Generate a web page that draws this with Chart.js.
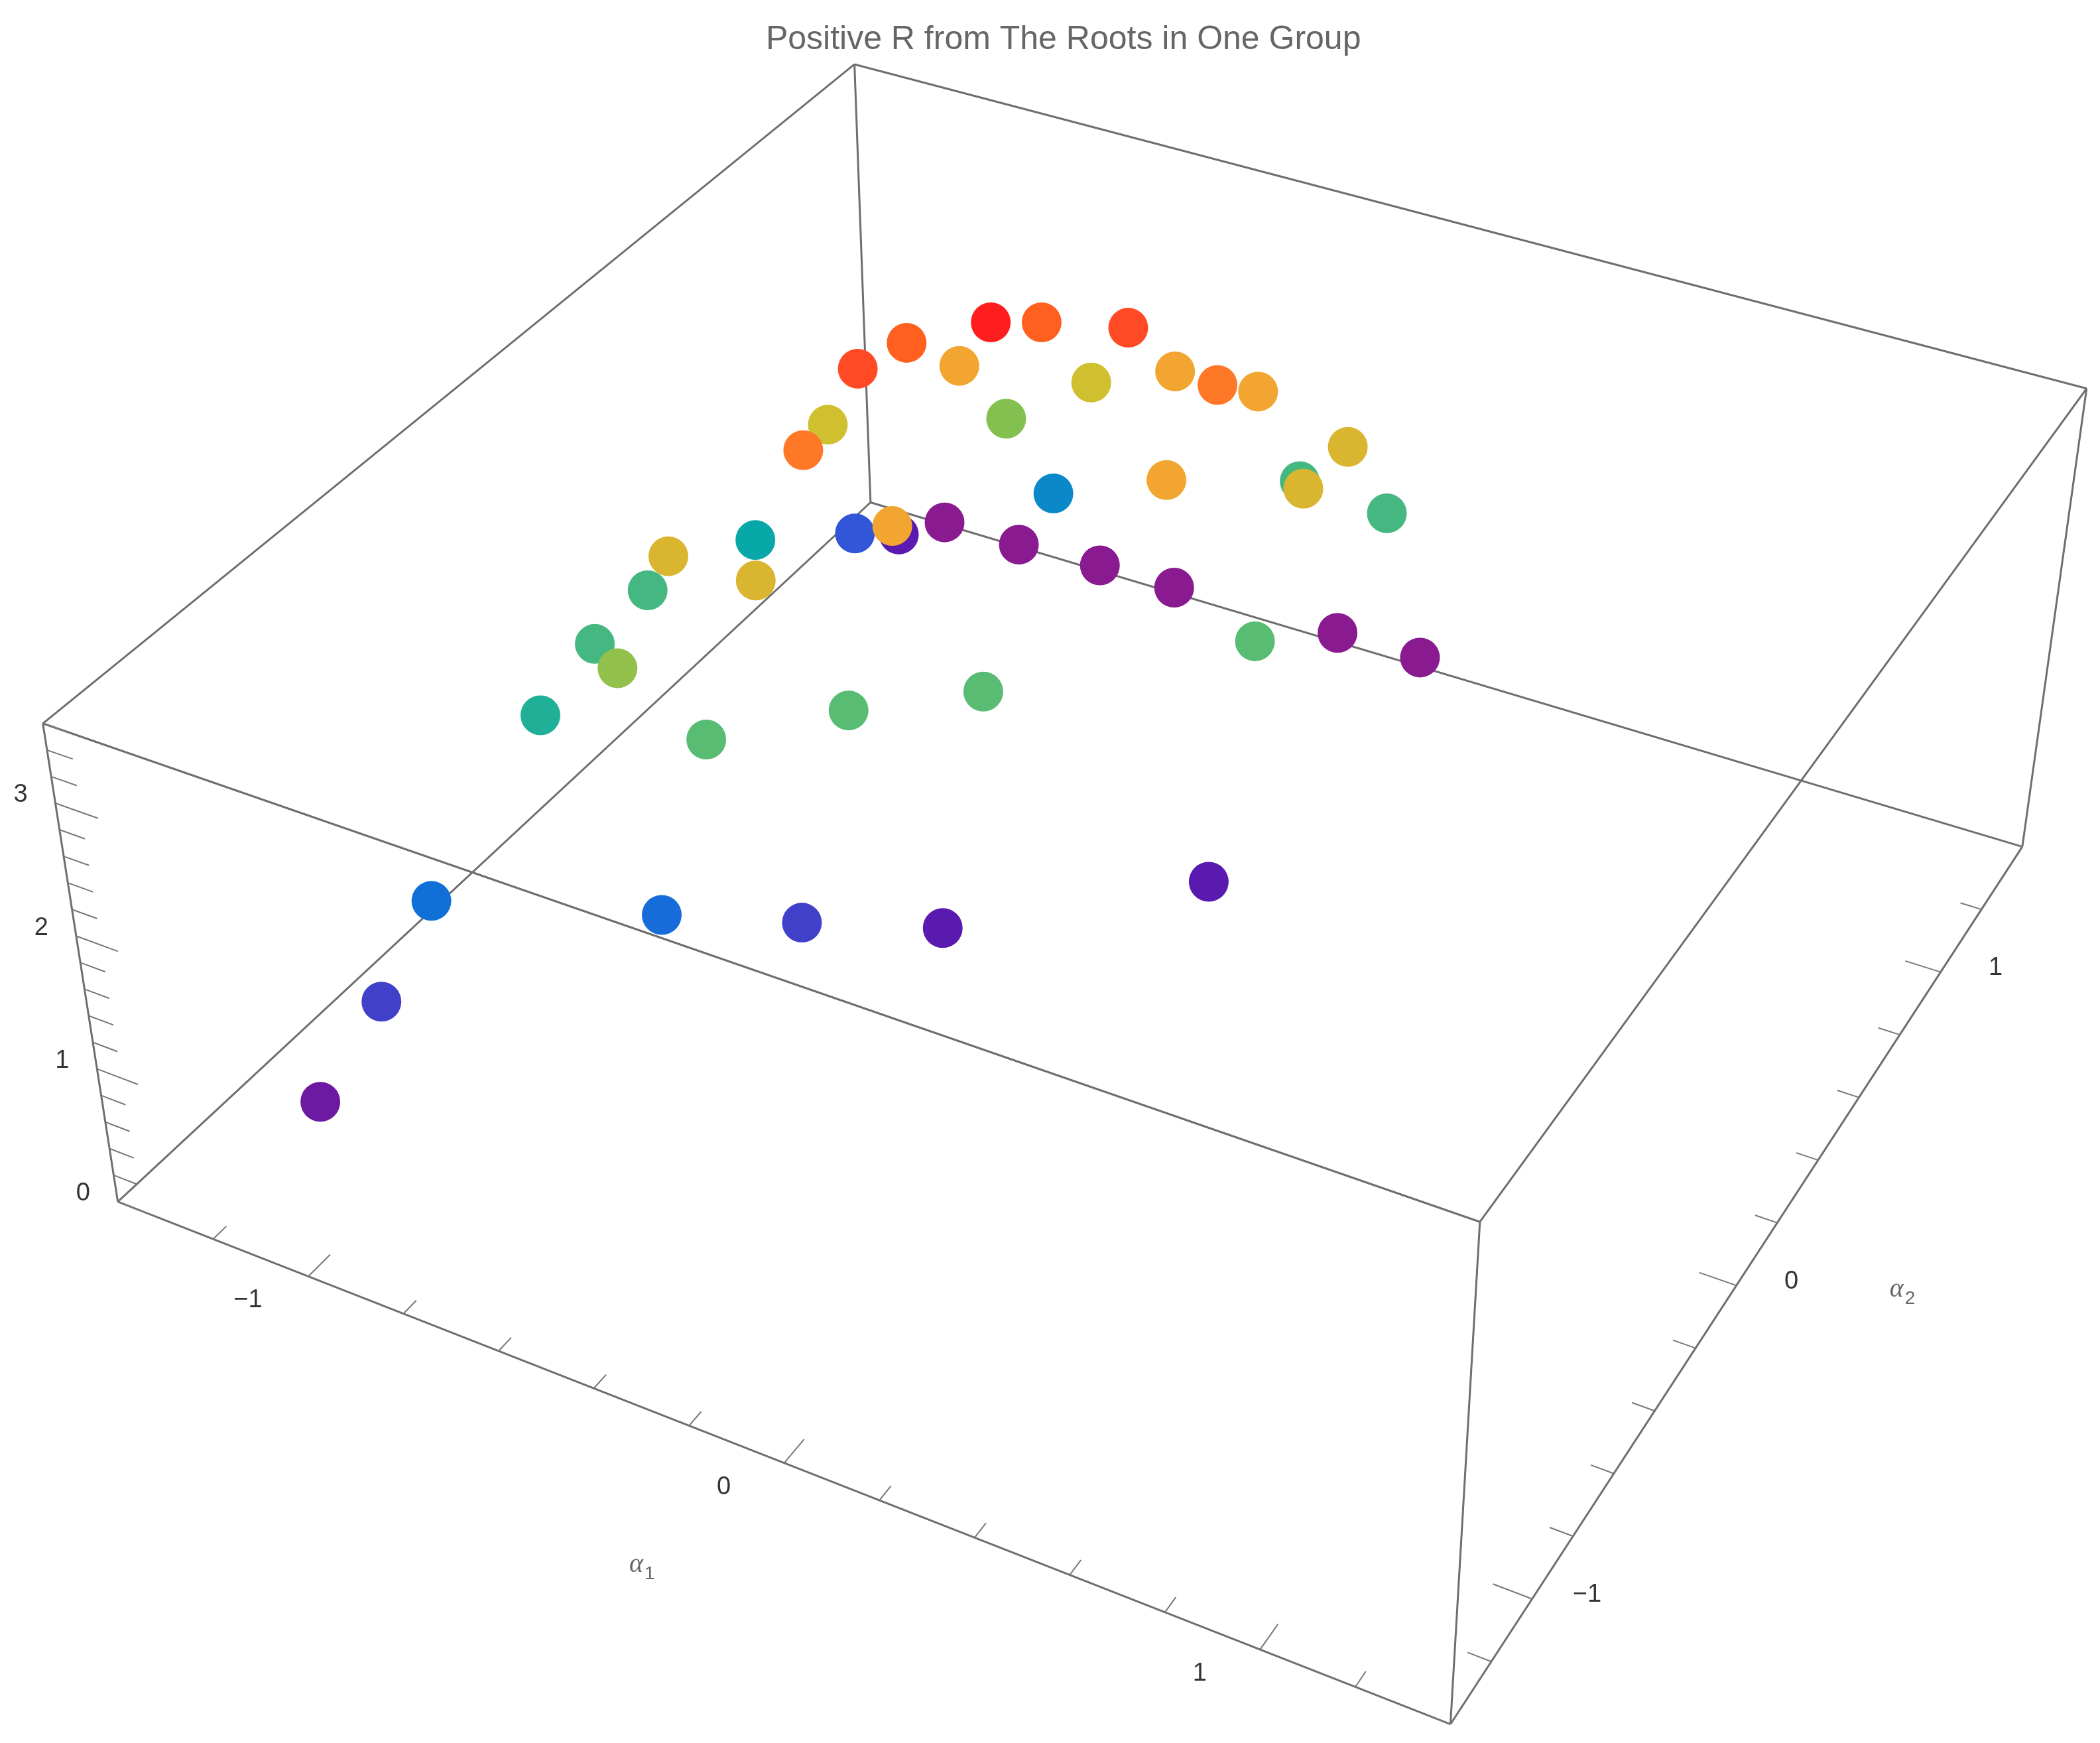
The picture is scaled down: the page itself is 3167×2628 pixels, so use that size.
<!DOCTYPE html>
<html><head><meta charset="utf-8">
<script src="https://cdn.jsdelivr.net/npm/chart.js@4.4.0/dist/chart.umd.min.js"></script>
<style>html,body{margin:0;background:#fff}canvas{display:block}</style>
</head><body>
<canvas id="c" width="3167" height="2628"></canvas>
<script>
// data: alpha1, alpha2, R
const alpha1 = [-0.69,-0.65,-0.47,-0.84,-0.85,-0.78,-0.57,-0.40,-0.26,-0.22,-0.94,-0.84,-0.72,0.01,-0.73,-0.23,-0.16,0.00,0.05,-1.10,-1.14,-0.61,-1.20,-1.02,-0.83,-0.65,-0.26,-0.06,0.04,-1.09,-0.94,-0.76,-1.08,-1.07,-0.91,-1.08,-0.71,-0.53,-0.34,-1.08,-0.71,-0.57,-0.39,0.00,-1.11,-1.16];
const alpha2 = [0.75,0.87,0.89,0.69,0.53,0.78,0.92,0.95,0.87,0.96,0.56,0.31,0.85,0.91,1.04,0.62,1.03,0.75,1.01,0.89,1.11,0.24,1.37,1.37,1.38,1.38,1.39,1.39,0.49,0.52,-0.02,-0.01,0.12,-0.09,-0.27,-0.28,-0.30,-0.08,0.10,-0.71,-0.50,-0.22,0.01,0.39,-0.87,-1.04];
const R = [3.5,3.3,3.4,3.3,3.4,3.0,2.8,3.0,3.2,3.0,2.8,3.2,2.5,2.9,1.5,3.0,2.2,2.9,2.2,1.1,0.6,3.0,0.1,0.1,0.1,0.1,0.1,0.1,2.3,1.8,2.9,2.9,2.2,2.2,2.55,2.0,2.3,2.3,2.3,1.4,1.35,0.9,0.6,0.6,0.9,0.4];

const a1Range = [-1.4, 1.4], a2Range = [-1.4, 1.4], rRange = [0, 3.6];
const a1Ticks = [-1, 0, 1], a2Ticks = [-1, 0, 1], rTicks = [0, 1, 2, 3];
const title = 'Positive R from The Roots in One Group';

// colour scale by R
const colorStops = [[0.1,[138,26,144]],[0.6,[90,26,176]],[0.9,[64,64,200]],[1.1,[51,85,216]],[1.4,[16,112,216]],[1.5,[10,136,200]],[1.8,[8,168,168]],[2.0,[32,176,152]],[2.2,[69,184,130]],[2.3,[88,188,114]],[2.5,[132,192,80]],[2.8,[208,192,48]],[2.9,[218,181,48]],[3.0,[242,165,48]],[3.2,[255,120,40]],[3.3,[255,96,32]],[3.4,[255,74,37]],[3.5,[255,30,30]]];
function colorFor(r) {
    if (r <= colorStops[0][0]) return 'rgb(' + colorStops[0][1] + ')';
    for (let i = 1; i < colorStops.length; i++) {
        if (r <= colorStops[i][0]) {
            const a = colorStops[i-1], b = colorStops[i], t = (r - a[0]) / (b[0] - a[0]);
            return 'rgb(' + a[1].map((c, k) => Math.round(c + t * (b[1][k] - c))).join(',') + ')';
        }
    }
    return 'rgb(' + colorStops[colorStops.length-1][1] + ')';
}

// view: box corners on screen (view units 1568 x 1301) at bottom (w=0) and top (w=1)
function faceCorners(w) {
    return [[88-56*w, 897-357*w], [1083+22*w, 1287-375*w], [1510+48*w, 632-342*w], [650-12*w, 375-327*w]];
}
function projN(u, v, w) {
    const c = faceCorners(w);
    return {
        x: (1-u)*(1-v)*c[0][0] + u*(1-v)*c[1][0] + u*v*c[2][0] + (1-u)*v*c[3][0],
        y: (1-u)*(1-v)*c[0][1] + u*(1-v)*c[1][1] + u*v*c[2][1] + (1-u)*v*c[3][1]
    };
}
const nu = a => (a - a1Range[0]) / (a1Range[1] - a1Range[0]);
const nv = a => (a - a2Range[0]) / (a2Range[1] - a2Range[0]);
const nw = r => (r - rRange[0]) / (rRange[1] - rRange[0]);
const proj = (a, b, r) => projN(nu(a), nv(b), nw(r));

// box edges
const edges = [];
[[0,0,0,1,0,0],[1,0,0,1,1,0],[1,1,0,0,1,0],[0,1,0,0,0,0],
 [0,0,1,1,0,1],[1,0,1,1,1,1],[1,1,1,0,1,1],[0,1,1,0,0,1],
 [0,0,0,0,0,1],[1,0,0,1,0,1],[1,1,0,1,1,1],[0,1,0,0,1,1]].forEach(e => {
    edges.push({
        type: 'line', data: [projN(e[0], e[1], e[2]), projN(e[3], e[4], e[5])],
        borderColor: '#6e6e6e', borderWidth: 3, pointRadius: 0, order: 1
    });
});

// tick marks (minor every 0.2)
const tickPts = [];
function range02(lo, hi) { const out = []; for (let t = Math.ceil(lo*5)/5; t <= hi + 1e-9; t += 0.2) out.push(Math.round(t*5)/5); return out; }
range02(a1Range[0], a1Range[1]).forEach(t => {
    const len = Number.isInteger(t) ? 0.03 : 0.018, u = nu(t);
    tickPts.push(projN(u, 0, 0), projN(u, len, 0), {x: null, y: null});
});
range02(a2Range[0], a2Range[1]).forEach(t => {
    const len = Number.isInteger(t) ? 0.03 : 0.018, v = nv(t);
    tickPts.push(projN(1, v, 0), projN(1 - len, v, 0), {x: null, y: null});
});
range02(rRange[0], rRange[1]).forEach(t => {
    const len = Number.isInteger(t) ? 0.03 : 0.018, w = nw(t);
    tickPts.push(projN(0, 0, w), projN(len, 0, w), {x: null, y: null});
});

// points, back (large alpha2) drawn first
const idx = alpha1.map((_, i) => i).sort((a, b) => alpha2[b] - alpha2[a]);
const pointData = idx.map(i => proj(alpha1[i], alpha2[i], R[i]));
const pointColors = idx.map(i => colorFor(R[i]));

const labelsPlugin = {
    id: 'labels3d',
    afterDraw(chart) {
        const ctx = chart.ctx, sx = chart.scales.x, sy = chart.scales.y;
        const X = p => sx.getPixelForValue(p), Y = p => sy.getPixelForValue(p);
        ctx.save();
        ctx.textAlign = 'center'; ctx.textBaseline = 'middle';
        ctx.fillStyle = '#666';
        ctx.font = '50px "Liberation Sans", Arial, sans-serif';
        ctx.fillText(title, X(794), Y(30));
        ctx.fillStyle = '#333';
        ctx.font = '38px "Liberation Sans", Arial, sans-serif';
        const fmt = t => (t < 0 ? '\u2212' : '') + Math.abs(t);
        a1Ticks.forEach(t => { const p = proj(t, a2Range[0], 0); ctx.fillText(fmt(t), X(p.x - 45), Y(p.y + 18)); });
        a2Ticks.forEach(t => { const p = proj(a1Range[1], t, 0); ctx.fillText(fmt(t), X(p.x + 41), Y(p.y - 3)); });
        rTicks.forEach(t => { const p = proj(a1Range[0], a2Range[0], t); ctx.fillText(fmt(t), X(p.x - 26), Y(p.y - 6)); });
        // axis titles
        ctx.fillStyle = '#666';
        const axisTitle = (x, y, sub) => {
            ctx.font = 'italic 40px "Liberation Serif", serif';
            ctx.textAlign = 'right';
            ctx.fillText('\u03b1', X(x), Y(y));
            ctx.font = '28px "Liberation Sans", Arial, sans-serif';
            ctx.textAlign = 'left';
            ctx.fillText(sub, X(x) + 2, Y(y) + 14);
        };
        const p1 = proj(-0.15, a2Range[0], 0); axisTitle(p1.x - 52, p1.y + 97, '1');
        const p2 = proj(a1Range[1], 0.15, 0); axisTitle(p2.x + 102, p2.y + 38, '2');
        ctx.restore();
    }
};

new Chart(document.getElementById('c'), {
    type: 'scatter',
    data: {
        datasets: [{
            data: pointData, pointBackgroundColor: pointColors, pointBorderWidth: 0,
            pointRadius: 30, pointHoverRadius: 30, order: 0
        }, {
            type: 'line', data: tickPts, borderColor: '#777', borderWidth: 2,
            pointRadius: 0, spanGaps: false, order: 1
        }].concat(edges)
    },
    options: {
        responsive: false, devicePixelRatio: 1, animation: false,
        layout: { padding: 0, autoPadding: false },
        plugins: { legend: { display: false }, tooltip: { enabled: false }, title: { display: false } },
        scales: {
            x: { type: 'linear', min: 0, max: 1568, display: false },
            y: { type: 'linear', min: 0, max: 1301, reverse: true, display: false }
        }
    },
    plugins: [labelsPlugin]
});
</script></body></html>
